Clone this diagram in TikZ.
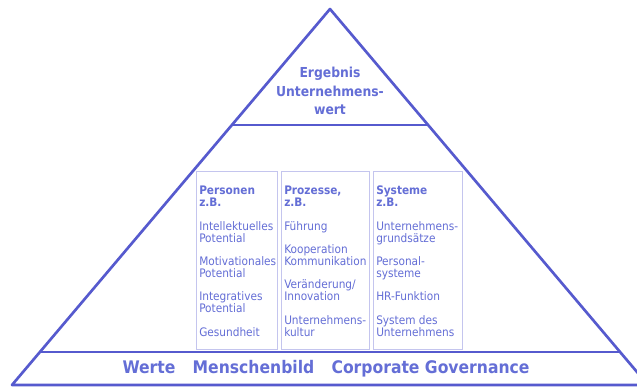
\documentclass[tikz,border=0pt]{standalone}
\usepackage{fontspec}
\setmainfont{DejaVu Sans Condensed}
\usetikzlibrary{calc}

\definecolor{pyrline}{RGB}{86,90,206}
\definecolor{pyrtext}{RGB}{100,110,214}

\tikzset{
  tierline/.style={pyrline, line width=1.5pt},
  colbox/.style={draw=pyrline!35, line width=0.6pt, minimum width=#1, minimum height=133.5pt, inner sep=0pt, anchor=north west},
  coltext/.style={text=pyrtext, align=left, inner sep=0pt, anchor=north west, font=\fontsize{8.8}{9}\selectfont},
  toptext/.style={text=pyrtext, align=center, font=\bfseries\fontsize{10.3}{13.9}\selectfont},
  basetext/.style={text=pyrtext, font=\bfseries\fontsize{13}{15}\selectfont}
}

\begin{document}
\begin{tikzpicture}[x=0.75pt,y=0.75pt,yscale=-1,xscale=1]

\clip (0,0) rectangle (637,389);
\fill [white] (0,0) rectangle (637,389);

% outline of the pyramid
\coordinate (apex) at (330,9);
\coordinate (left) at (12,385);
\coordinate (right) at (648,385);
\draw [pyrline, line width=2pt, line join=round] (left) -- (apex) -- (right) -- cycle;

% the two tier lines
\coordinate (topL) at ($(apex)!0.3085!(left)$);
\coordinate (topR) at ($(apex)!0.3085!(right)$);
\coordinate (baseL) at ($(apex)!0.912!(left)$);
\coordinate (baseR) at ($(apex)!0.912!(right)$);
\draw [tierline] (topL) -- (topR);
\draw [tierline] (baseL) -- (baseR);

\draw (330,91) node [toptext] (result) {Ergebnis\\Unternehmens-\\wert};

% three columns
\draw (196,171) node [colbox=60.75pt] (personen) {};
\draw (281,171) node [colbox=66pt] (prozesse) {};
\draw (373,171) node [colbox=66.75pt] (systeme) {};

\draw ($(personen.north west)+(3,15)$) node [coltext] (personenText)
  {\textbf{Personen}\\\textbf{z.B.}\\[8.5pt]
   Intellektuelles\\Potential\\[8.5pt]
   Motivationales\\Potential\\[8.5pt]
   Integratives\\Potential\\[8.5pt]
   Gesundheit};
\draw ($(prozesse.north west)+(3,15)$) node [coltext] (prozesseText)
  {\textbf{Prozesse,}\\\textbf{z.B.}\\[8.5pt]
   Führung\\[8.5pt]
   Kooperation\\Kommunikation\\[8.5pt]
   Veränderung/\\Innovation\\[8.5pt]
   Unternehmens-\\kultur};
\draw ($(systeme.north west)+(3,15)$) node [coltext] (systemeText)
  {\textbf{Systeme}\\\textbf{z.B.}\\[8.5pt]
   Unternehmens-\\grundsätze\\[8.5pt]
   Personal-\\systeme\\[8.5pt]
   HR-Funktion\\[8.5pt]
   System des\\Unternehmens};

\draw (326,369) node [basetext] (values) {Werte\quad Menschenbild\quad Corporate Governance};

\end{tikzpicture}
\end{document}
